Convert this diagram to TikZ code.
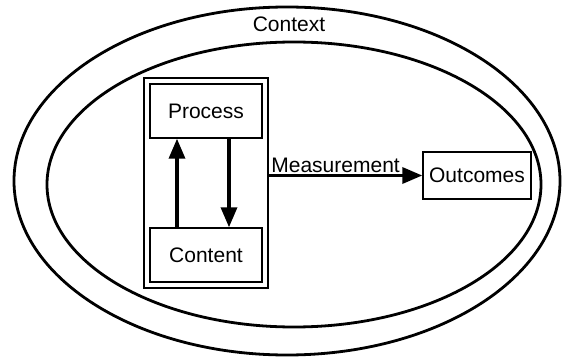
\documentclass[tikz,border=0pt]{standalone}
\usepackage{fontspec}
\setmainfont{Liberation Sans}
\usetikzlibrary{shapes.geometric,arrows.meta}

\begin{document}
\begin{tikzpicture}[x=1pt,y=-1pt,
    font=\fontsize{21}{25}\selectfont,
    ring/.style={draw,ellipse,line width=2.8pt,inner sep=0pt},
    box/.style={draw,rectangle,line width=1.4pt,inner sep=0pt,
      minimum width=112pt,minimum height=54pt},
    flow/.style={line width=3.4pt,-{Triangle[length=20pt,width=16pt]}}]

      \useasboundingbox (0,0) rectangle (562,358);

      % rings
      \node[ring,minimum width=546pt,minimum height=348pt] (context) at (287,181) {};
      \node[ring,minimum width=494pt,minimum height=285pt] (setting) at (294,184.5) {};
      \node (contextlabel) at (289,24) {Context};

      % boxes
      \node[box,minimum width=124pt,minimum height=210pt] (frame) at (206,183) {};
      \node[box] (process)  at (206,111) {Process};
      \node[box] (content)  at (206,255) {Content};
      \node[box,minimum width=108pt,minimum height=47pt] (outcomes) at (477,175.5) {Outcomes};

      % arrows
      \draw[flow] ([xshift=-29pt]content.north) -- ([xshift=-29pt]process.south);
      \draw[flow] ([xshift=23pt]process.south) -- ([xshift=23pt]content.north);
      \draw[flow] (frame.east |- outcomes.west) -- (outcomes.west)
        node[pos=0,above right,inner sep=1pt] {Measurement};

    \end{tikzpicture}
\end{document}
